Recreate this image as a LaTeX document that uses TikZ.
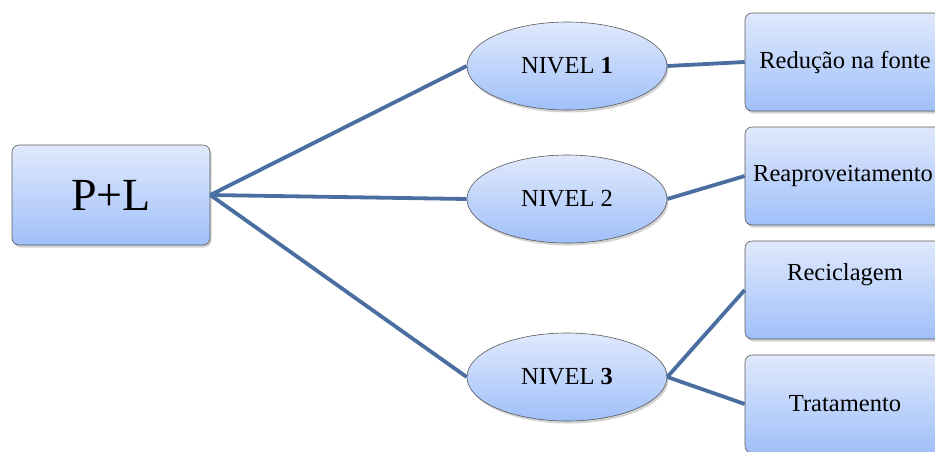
\documentclass[tikz,border=0pt]{standalone}
\usepackage{fontspec}
\setmainfont{Liberation Serif}
\usetikzlibrary{shapes.geometric,shadows}
\definecolor{linkblue}{RGB}{74,110,160}
\definecolor{filltop}{RGB}{224,233,252}
\definecolor{fillbot}{RGB}{160,192,250}
\definecolor{edgegray}{RGB}{90,90,90}
\tikzset{
  boxshape/.style={draw=edgegray, line width=0.6pt, rounded corners=7pt,
    top color=filltop, bottom color=fillbot,
    drop shadow={opacity=0.35, shadow xshift=1.5pt, shadow yshift=-2.5pt},
    inner sep=0pt},
  ellshape/.style={ellipse, draw=edgegray, line width=0.6pt,
    top color=filltop, bottom color=fillbot,
    drop shadow={opacity=0.35, shadow xshift=1.5pt, shadow yshift=-2.5pt},
    minimum width=200pt, minimum height=88pt, inner sep=0pt,
    font=\fontsize{24.5}{29}\selectfont},
  rbox/.style={boxshape, minimum width=200pt, minimum height=98pt,
    font=\fontsize{24.5}{29}\selectfont},
  link/.style={draw=linkblue, line width=3.8pt}
}
\begin{document}
\begin{tikzpicture}[x=1pt,y=-1pt]
\useasboundingbox (0,0) rectangle (935,451);
\clip (0,0) rectangle (935,451);
\node[boxshape, minimum width=198pt, minimum height=100pt,
  font=\fontsize{46}{54}\selectfont] (pl) at (111,195) {P+L};
\node[ellshape] (n1) at (567,66) {NIVEL \textbf{1}};
\node[ellshape] (n2) at (567,199) {NIVEL 2};
\node[ellshape] (n3) at (567,377) {NIVEL \textbf{3}};
\node[rbox] (b1) at (845,62) {Redução na fonte};
\node[rbox] (b2) at (845,176) {\hspace*{-4pt}Reaproveitamento};
\node[rbox, text height=17pt, text depth=36pt] (b3) at (845,290) {Reciclagem};
\node[rbox] (b4) at (845,404) {Tratamento};
\draw[link] (pl.east) -- (n1.west);
\draw[link] (pl.east) -- (n2.west);
\draw[link] (pl.east) -- (n3.west);
\draw[link] (n1.east) -- (b1.west);
\draw[link] (n2.east) -- (b2.west);
\draw[link] (n3.east) -- (b3.west);
\draw[link] (n3.east) -- (b4.west);
\end{tikzpicture}
\end{document}
